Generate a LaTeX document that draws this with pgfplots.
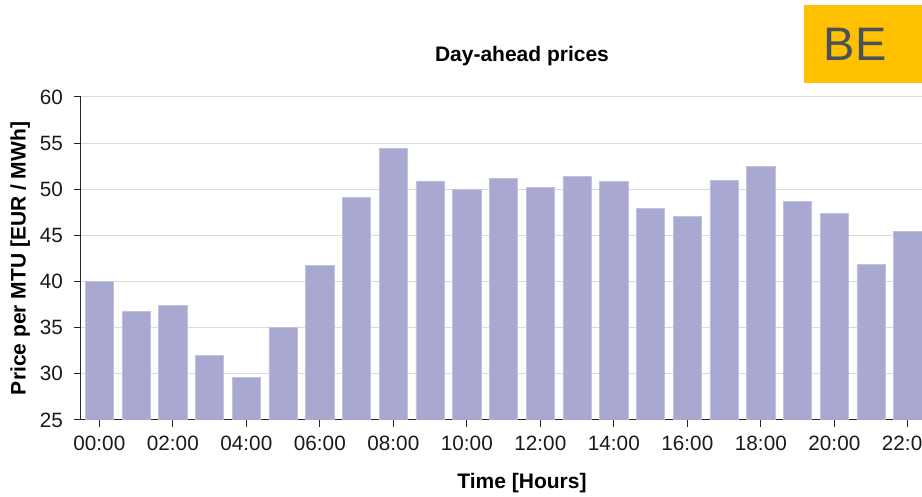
\documentclass[border=0pt]{standalone}
\usepackage{fontspec}
\setmainfont{Liberation Sans}
\usepackage{pgfplots}
\pgfplotsset{compat=1.18}
\definecolor{barcol}{RGB}{168,168,208}
\definecolor{baredge}{RGB}{192,192,224}
\definecolor{gridcol}{RGB}{218,218,218}
\definecolor{beyellow}{RGB}{255,192,0}
\definecolor{betext}{RGB}{72,82,88}
\begin{document}
\begin{tikzpicture}
\useasboundingbox (0pt,0pt) rectangle (922pt,497pt);
\clip (0pt,0pt) rectangle (922pt,497pt);
\begin{axis}[
  at={(81pt,77pt)}, anchor=south west,
  scale only axis, width=882pt, height=323pt,
  xmin=-0.5, xmax=23.5, ymin=25, ymax=60,
  ybar, bar width=0.77,
  axis x line*=bottom, axis y line*=left,
  axis line style={-, black!85, line width=1pt},
  xtick={0,2,...,22},
  xticklabels={00:00,02:00,04:00,06:00,08:00,10:00,12:00,14:00,16:00,18:00,20:00,22:00},
  ytick={25,30,...,60},
  ymajorgrids, grid style={gridcol, line width=1pt},
  tick align=outside, major tick length=7pt,
  tick style={black!85, line width=1pt},
  /pgf/number format/assume math mode=true,
  ticklabel style={font=\fontsize{20.7}{24}\selectfont, inner sep=0pt, text=black!90},
  xticklabel style={anchor=north, yshift=-9pt},
  yticklabel style={anchor=east, xshift=-11pt},
  title={Day-ahead prices},
  title style={at={(axis description cs:0.5,1.0898)}, anchor=base, inner sep=0pt, font=\bfseries\fontsize{21}{24}\selectfont},
  xlabel={Time [Hours]},
  xlabel style={at={(axis description cs:0.5,-0.2121)}, anchor=base, inner sep=0pt, font=\bfseries\fontsize{21}{24}\selectfont},
  ylabel={Price per MTU [EUR / MWh]},
  ylabel style={at={(axis description cs:-0.0629,0.5)}, anchor=base, inner sep=0pt, font=\bfseries\fontsize{21}{24}\selectfont},
]
\addplot[fill=barcol, draw=baredge, line width=0.8pt] coordinates {
(0,40.0) (1,36.8) (2,37.45) (3,32.0) (4,29.6) (5,35.0) (6,41.7) (7,49.1)
(8,54.4) (9,50.9) (10,50.0) (11,51.15) (12,50.15) (13,51.4) (14,50.85)
(15,47.95) (16,47.05) (17,51.0) (18,52.45) (19,48.65) (20,47.35) (21,41.9) (22,45.4)
};
\end{axis}
\fill[beyellow] (804pt,414pt) rectangle (930pt,492pt);
\node[text=betext, inner sep=0pt, font=\fontsize{47}{50}\selectfont] at (855pt,452.5pt) {BE};
\end{tikzpicture}
\end{document}
